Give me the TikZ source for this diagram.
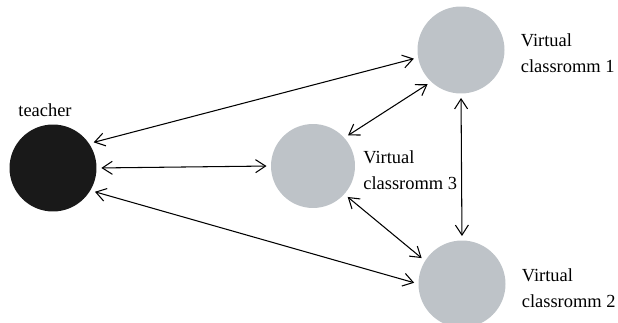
\documentclass[tikz,border=0pt]{standalone}
\usepackage{fontspec}
\setmainfont{Liberation Serif}
\usepackage{tikz}
\usetikzlibrary{positioning}
\usetikzlibrary{arrows.meta}

\definecolor{roomgray}{RGB}{190,195,200}
\definecolor{teacherblack}{RGB}{25,25,25}

\tikzset{
  room/.style={circle, fill=roomgray, minimum size=1.74cm, inner sep=0pt, outer sep=0pt},
  roomlabel/.style={align=left, inner sep=0pt, font=\fontsize{10.5}{15}\selectfont},
  link/.style={<->, line width=0.6pt, shorten <=0.09cm, shorten >=0.09cm}
}

\begin{document}
\begin{tikzpicture}[x=0.02cm, y=-0.02cm, >={Straight Barb[length=2mm,width=2.6mm]}]
\useasboundingbox (0,0) rectangle (618,323);

\node[circle, fill=teacherblack, minimum size=1.74cm, inner sep=0pt] (teacher) at (53,168) {};
\node[room] (vc1) at (461,50) {};
\node[room, minimum size=1.68cm] (vc3) at (313,166) {};
\node[room] (vc2) at (462,284) {};

\node[roomlabel, above=0.14cm of teacher, xshift=-0.16cm] (tlab) {teacher};
\node[roomlabel, right=0.32cm of vc1, yshift=-0.06cm] (lab1) {Virtual\\classromm 1};
\node[roomlabel, right=0.16cm of vc3, yshift=-0.08cm] (lab3) {Virtual\\classromm 3};
\node[roomlabel, right=0.32cm of vc2, yshift=-0.08cm] (lab2) {Virtual\\classromm 2};

\draw[link] (teacher.34) -- (vc1.190);
\draw[link] (teacher.0) -- (vc3.180);
\draw[link] (teacher.-31) -- (vc2.180);
\draw[link] (vc3.42) -- (vc1.227);
\draw[link] (vc3.-42) -- (vc2.148);
\draw[link] (vc1.south) -- (vc2.north);
\end{tikzpicture}
\end{document}
